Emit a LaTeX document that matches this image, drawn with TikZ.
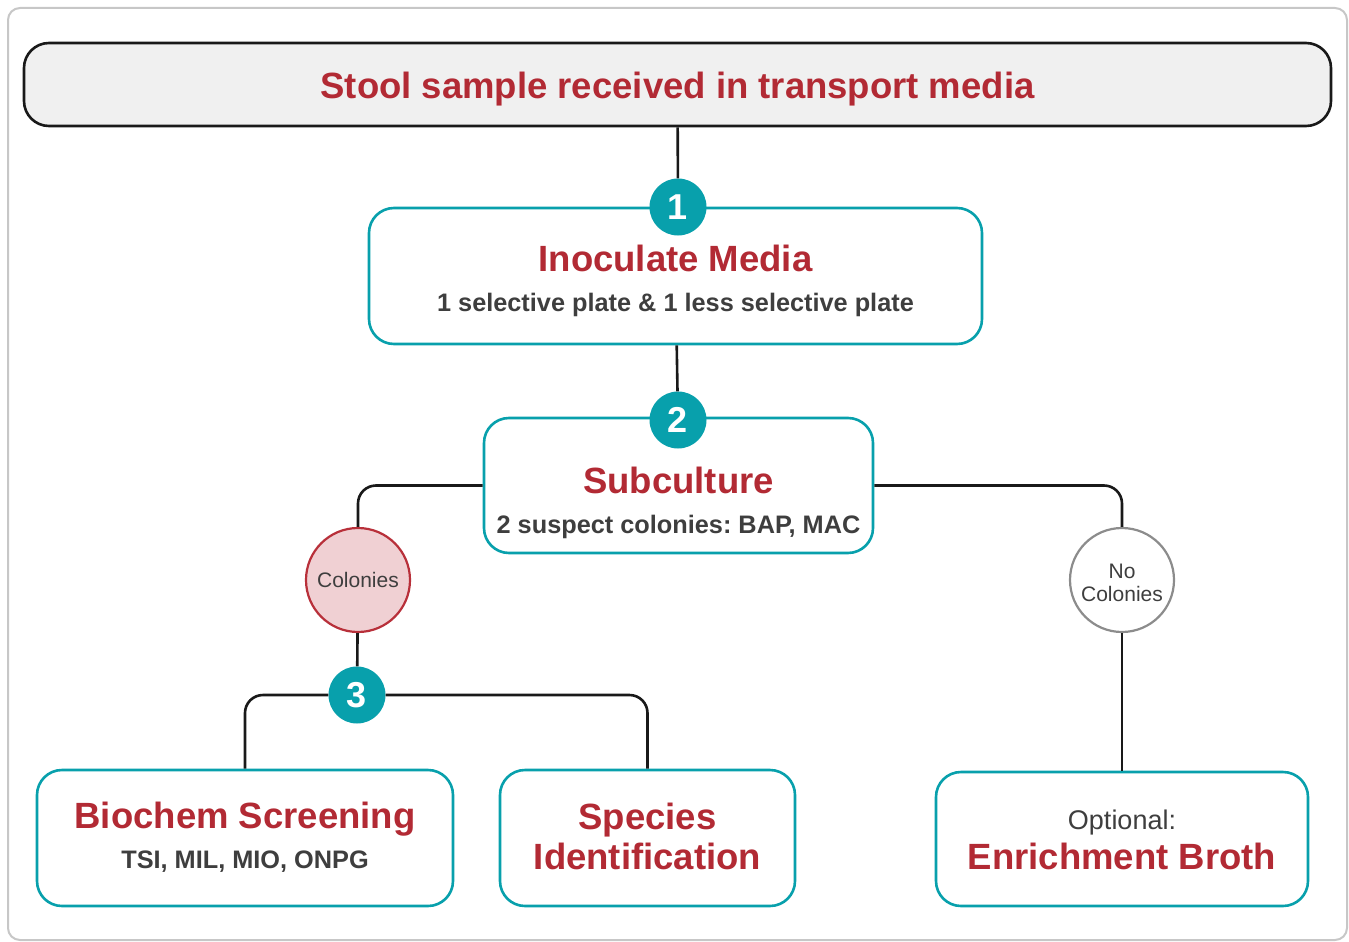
\documentclass[tikz,border=0pt]{standalone}
\usepackage{fontspec}
\setmainfont{Liberation Sans}
\usepackage{tikz}
\usetikzlibrary{positioning,calc}
\frenchspacing

\definecolor{flowred}{RGB}{178,42,52}
\definecolor{flowteal}{RGB}{8,160,172}
\definecolor{flowgray}{RGB}{62,62,62}
\definecolor{colpink}{RGB}{240,208,211}
\definecolor{colred}{RGB}{184,48,58}

\newcommand{\steptitle}[1]{{\fontsize{36.5}{40}\selectfont\bfseries\color{flowred}#1}}

\begin{document}
\begin{tikzpicture}[x=1pt, y=-1pt,
    stepbox/.style={draw=flowteal, line width=2.6pt, rounded corners=25pt, fill=white,
      align=center, inner sep=0pt, text depth=0pt, text=flowgray,
      font=\fontsize{25.3}{40}\selectfont\bfseries},
    num/.style={circle, fill=flowteal, text=white, minimum size=57pt, inner sep=0pt,
      font=\fontsize{36}{40}\selectfont\bfseries},
    branch/.style={circle, line width=2.2pt, minimum size=104pt, inner sep=0pt, align=center,
      text=flowgray, font=\fontsize{21}{23}\selectfont},
    link/.style={line width=2.6pt, black!90, rounded corners=18pt}
  ]
    \useasboundingbox (0,0) rectangle (1349,942);
    \draw[black!22, line width=2pt, rounded corners=12pt] (8,8) rectangle (1347,940);

    % boxes
    \node[draw=black!90, line width=2.6pt, rounded corners=25pt, fill=black!6,
      minimum width=1307pt, minimum height=83pt, inner sep=0pt,
      text height=30pt, text depth=3pt] (stool) at (677.5,84.5)
      {\steptitle{Stool sample received in transport media}};
    \node[stepbox, text height=70pt, minimum width=613pt, minimum height=136pt] (inoc) at (675.5,276)
      {\steptitle{Inoculate Media}\\1 selective plate \& 1 less selective plate};
    \node[stepbox, text height=95pt, minimum width=389pt, minimum height=135pt] (sub) at (678.5,485.5)
      {\steptitle{Subculture}\\2 suspect colonies: BAP, MAC};
    \node[stepbox, text height=60pt, minimum width=416pt, minimum height=136pt] (bio) at (245,838)
      {\steptitle{Biochem Screening}\\TSI, MIL, MIO, ONPG};
    \node[stepbox, text height=62pt, minimum width=295pt, minimum height=136pt] (spec) at (647.5,838)
      {\steptitle{Species}\\\steptitle{Identification}};
    \node[stepbox, text height=60pt, minimum width=372pt, minimum height=134pt] (enr) at (1122,839)
      {{\mdseries\fontsize{27}{40}\selectfont Optional:}\\\steptitle{Enrichment Broth}};

    % branch circles
    \node[branch, draw=colred, fill=colpink] (col) at (358,580) {Colonies};
    \node[branch, draw=black!45, fill=white, text height=43pt, text depth=0pt] (nocol) at (1122,580)
      {No\\Colonies};

    % step numbers
    \node[num] (n1) at (678,207) {1};
    \node[num] (n2) at (678,420) {2};
    \node[num] (n3) at (357,695) {3};

    % connectors
    \draw[link] (stool) -- (n1);
    \draw[link] (inoc) -- (n2);
    \draw[link] (sub.west) -| (col.north);
    \draw[link] (sub.east) -| (nocol.north);
    \draw[link] (col) -- (n3);
    \draw[link] (n3.west) -| (bio.north);
    \draw[link] (n3.east) -| (spec.north);
    \draw[link] (nocol) -- (enr);
  \end{tikzpicture}
\end{document}
